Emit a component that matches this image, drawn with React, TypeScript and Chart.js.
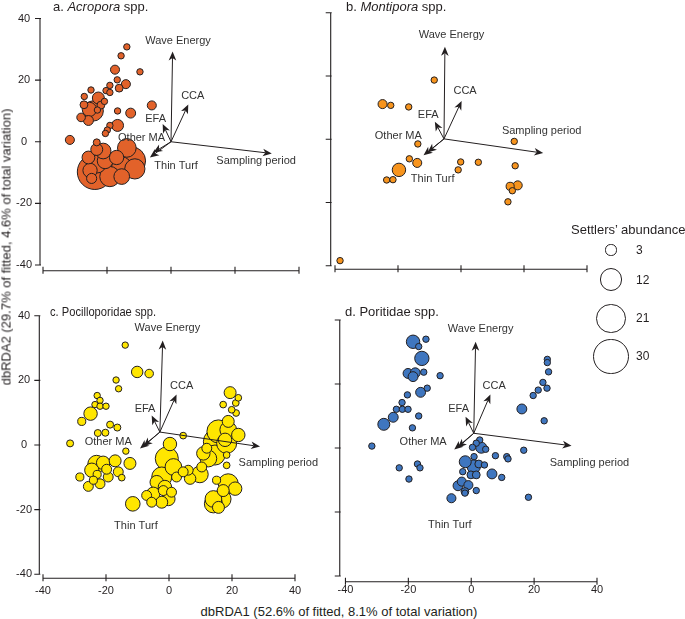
import { useEffect, useRef } from 'react';
import { Chart, registerables } from 'chart.js';

Chart.register(...registerables);

// ---------- data ----------
const TICKS = [-40, -20, 0, 20, 40];
const VECTOR_NAMES = ['Wave Energy', 'CCA', 'EFA', 'Other MA', 'Thin Turf', 'Sampling period'];
const LEGEND_VALUES = [3, 12, 21, 30];

// [dbRDA1, dbRDA2, settlers' abundance]
const ACROPORA = [
  [-13.8, 30.8, 1], [-15.6, 27.9, 1], [-17.5, 23.4, 2], [-9.7, 22.7, 1], [-16.8, 20.1, 1],
  [-14.1, 18.7, 2], [-16.2, 17.4, 1.5], [-19.1, 18.3, 1], [-20.3, 16.6, 1], [-19.1, 16.0, 1],
  [-25.0, 16.8, 1], [-27.1, 14.7, 1], [-22.7, 14.2, 3.5], [-20.8, 13.1, 1], [-27.2, 12.0, 1.5],
  [-24.3, 10.0, 10], [-25.5, 10.5, 5], [-21.9, 11.9, 1.5], [-23.0, 10.3, 1], [-28.1, 7.9, 1.8],
  [-25.8, 6.9, 2.4], [-16.7, 10.0, 1], [-12.6, 9.3, 2.4], [-6.0, 11.8, 2], [-19.1, 5.3, 1],
  [-16.7, 5.3, 3.5], [-19.9, 3.8, 1], [-20.5, 2.7, 1], [-31.6, 0.6, 2], [-23.2, -0.2, 1.2],
  [-23.8, -9.8, 30], [-25.3, -9.3, 5], [-13.8, -2.0, 8.5], [-12.3, -6.2, 19], [-17.0, -5.1, 5],
  [-20.6, -6.2, 6], [-21.2, -3.0, 6], [-23.2, -2.5, 3.5], [-15.4, -8.2, 10], [-19.1, -11.3, 10],
  [-15.4, -11.3, 6], [-25.8, -5.1, 4], [-11.3, -8.8, 10], [-24.8, -11.9, 2.5], [-22.2, -4.1, 8],
  [-18.4, -7.2, 12], [-23.1, -7.2, 8],
];

const MONTIPORA = [
  [-8.5, 18.7, 1], [-24.9, 11.1, 2], [-22.3, 10.7, 1], [-16.6, 10.2, 1], [-13.7, -1.5, 1],
  [-16.4, -6.2, 1], [-13.9, -7.5, 2], [-19.7, -9.7, 4.4], [-23.6, -12.9, 1], [-21.6, -12.8, 1],
  [-0.1, -7.2, 1], [-0.9, -9.7, 1], [5.5, -7.3, 1], [16.9, -0.7, 1], [17.2, -8.4, 1],
  [15.6, -14.9, 1.6], [18.0, -14.6, 2], [16.3, -16.3, 1], [14.9, -19.8, 1], [-38.4, -38.4, 1],
];

const POCILLOPORIDAE = [
  [-13.9, 30.9, 1], [-10.1, 22.6, 3.2], [-6.3, 22.1, 1.8], [-16.8, 20.1, 1], [-16.0, 17.4, 1],
  [-22.8, 15.3, 1], [-21.9, 13.8, 1], [-23.5, 12.5, 1], [-21.9, 12.0, 1], [-20.0, 12.0, 1],
  [-24.9, 9.7, 4.4], [-27.7, 7.3, 1.6], [-18.7, 6.3, 1.2], [-16.4, 5.4, 1.2], [-22.6, 3.7, 1.2],
  [-20.2, 3.8, 1.2], [-31.4, 0.5, 1.2], [-13.7, -1.9, 1], [-11.5, -18.2, 5.2],
  [-23.0, -5.9, 7.5], [-24.5, -7.8, 5], [-20.9, -5.5, 4.4], [-17.1, -4.9, 3.5], [-12.4, -5.7, 3.5],
  [-25.6, -12.8, 2.4], [-28.3, -9.9, 1.6], [-21.9, -12.0, 2.4], [-19.3, -9.9, 2.4], [-16.1, -8.3, 2.4],
  [-22.8, -9.1, 1.6], [-19.8, -7.5, 2.4], [-15.0, -10.1, 1.1], [-24.0, -10.9, 1.6],
  [4.5, 2.9, 1.1], [0.3, 0.3, 4.4], [-0.7, -4.2, 13], [1.4, -6.8, 6.8], [-2.3, -9.9, 9.8],
  [-3.9, -11.5, 4.4], [-1.3, -13.0, 4.4], [-1.8, -14.1, 2.4], [-5.0, -15.1, 4.4], [-7.1, -15.6, 2.4],
  [-0.2, -16.7, 4.4], [-2.3, -17.7, 3.5], [-5.5, -17.7, 2.4], [0.8, -14.6, 2.4], [2.4, -9.9, 2.4],
  [6.1, -7.8, 2.4], [6.7, -10.4, 3.2], [4.5, -8.3, 2.4], [9.8, -9.1, 6.8], [10.4, -6.8, 2.4],
  [10.9, -2.6, 4.4], [12.5, -4.2, 6.8], [14.6, -3.1, 9.8], [15.1, 1.0, 17], [15.7, 4.2, 13],
  [18.8, 4.7, 6.8], [17.8, 1.6, 4.4], [18.8, 7.3, 3.5], [19.4, 16.2, 3.5], [17.2, 12.5, 1.1],
  [21.2, 13.0, 1.1], [22.0, 14.6, 1.1], [21.3, 9.9, 1.1], [19.9, 10.9, 1.1], [22.0, 3.1, 4.4],
  [18.3, -3.1, 1.1], [18.3, -6.3, 1.1], [12.0, -1.0, 2.4], [18.8, -12.0, 9.8], [16.7, -16.7, 8.7],
  [14.1, -16.7, 6.8], [15.7, -19.3, 3.5], [21.0, -13.5, 4.4], [15.1, -10.9, 1.6], [17.2, -14.1, 3.5],
  [18.3, 0.5, 9.8], [14.1, -18.2, 8],
];

const PORITIDAE = [
  [-18.5, 33.2, 4.4], [-14.4, 34.0, 1], [-16.7, 31.7, 1], [-15.7, 28.0, 5], [-20.1, 23.3, 2.4],
  [-17.8, 23.5, 2.4], [-18.5, 22.3, 2.4], [-15.1, 23.7, 1], [-9.9, 22.6, 1], [-14.0, 18.7, 1],
  [-16.1, 17.4, 2.4], [-20.3, 16.6, 1], [-22.0, 14.2, 1], [-23.8, 12.1, 1], [-21.9, 12.1, 1],
  [-20.1, 12.1, 1], [-24.8, 9.6, 2.4], [-27.8, 7.4, 3.5], [-16.7, 10.0, 1], [-18.7, 6.3, 1],
  [-31.6, 0.6, 1], [-22.9, -6.2, 1], [-19.8, -9.7, 1], [-17.1, -5.0, 1], [-16.3, -6.2, 1],
  [24.2, 27.7, 1], [24.2, 26.7, 1], [24.6, 23.8, 1], [22.8, 20.5, 1], [24.1, 18.7, 1],
  [21.3, 18.1, 1], [19.7, 16.4, 1], [16.1, 12.2, 2.4], [23.2, 8.5, 1], [16.7, -0.7, 1],
  [18.2, -15.4, 1],
  [2.7, 2.5, 1], [1.6, 1.5, 1], [3.2, 0.1, 3], [4.6, -0.4, 1], [0.4, 0.2, 1],
  [7.7, -2.4, 1], [11.3, -2.7, 1], [11.7, -3.4, 1], [0.9, -2.7, 1], [-1.9, -4.3, 3.5],
  [0.8, -5.8, 4.4], [2.4, -5.0, 1.5], [4.2, -5.3, 1], [-2.7, -7.4, 1], [-0.1, -8.4, 1.5],
  [1.6, -8.4, 1.5], [6.6, -8.1, 2.4], [9.7, -9.2, 1], [-4.2, -11.8, 2.4], [-3.0, -10.5, 2],
  [-0.9, -11.6, 2], [-2.0, -13.6, 1.5], [-2.0, -14.1, 1], [1.6, -13.3, 1], [-6.3, -15.7, 2],
];

// biplot vectors: origin and tips, in dbRDA units (order = VECTOR_NAMES)
const ACROPORA_ORIGIN = [0, 0];
const ACROPORA_VECTORS = [[0.5, 29.3], [5.4, 12.1], [-2.6, 5.8], [-5.5, -3.5], [-6.6, -5.1], [31.5, -3.8]];
const MONTIPORA_ORIGIN = [-5.4, 0.1];
const MONTIPORA_VECTORS = [[-5.1, 29.2], [0.2, 12.1], [-8.3, 5.5], [-11.9, -5.1], [-10.6, -4.2], [26.1, -4.4]];
const POCILLOPORIDAE_ORIGIN = [-2.9, 4.0];
const POCILLOPORIDAE_VECTORS = [[-2.0, 32.3], [2.4, 15.6], [-5.5, 9.1], [-9.2, -1.1], [-8.1, -0.4], [28.9, -0.5]];
const PORITIDAE_ORIGIN = [0.8, 4.6];
const PORITIDAE_VECTORS = [[1.4, 33.2], [6.1, 16.7], [-1.8, 9.8], [-5.4, -0.5], [-4.3, 0.1], [31.9, 0.7]];

// label anchors for vectors (dbRDA units)
const ACROPORA_LABELS = [[2.2, 32.6], [6.8, 14.9], [-4.8, 7.4], [-9.2, 1.2], [1.6, -7.7], [26.6, -6.2]];
const MONTIPORA_LABELS = [[-3.0, 33.1], [1.3, 15.1], [-10.4, 7.8], [-19.9, 1.1], [-9.0, -12.6], [25.6, 2.7]];
const POCILLOPORIDAE_LABELS = [[-0.5, 36.2], [4.0, 18.4], [-7.6, 11.3], [-19.3, 0.8], [-10.5, -25.1], [34.7, -5.7]];
const PORITIDAE_LABELS = [[3.0, 37.1], [7.3, 19.4], [-4.0, 12.2], [-15.3, 1.8], [-6.8, -24.1], [37.6, -4.8]];

// ---------- styling / layout ----------
const FONT = '"Liberation Sans", Arial, Helvetica, sans-serif';
const INK = '#231f20';
const TEXT = '#333333';
const radiusFor = (n: number) => 3.2 * Math.sqrt(n);

type Panel = {
  key: string;
  points: number[][];
  origin: number[];
  vectors: number[][];
  labels: number[][];
  color: string;
  title: [string, boolean][];
  titleWidth: number;
  canvas: { left: number; top: number; w: number; h: number };
  area: { l: number; t: number; r: number; b: number };
  off: { y: number; x: number };
  showX: boolean;
  showY: boolean;
  xPad: number;
  titlePos: [number, number];
};

const PANELS: Panel[] = [
  {
    key: 'a', points: ACROPORA, origin: ACROPORA_ORIGIN, vectors: ACROPORA_VECTORS, labels: ACROPORA_LABELS,
    color: '#e2622a', title: [['a. ', false], ['Acropora', true], [' spp.', false]], titleWidth: 0,
    canvas: { left: 0, top: 0, w: 320, h: 290 }, area: { l: 43, t: 8.8, r: 299, b: 265 },
    off: { y: 3, x: 5.7 }, showX: false, showY: true, xPad: 10, titlePos: [53, 7.5],
  },
  {
    key: 'b', points: MONTIPORA, origin: MONTIPORA_ORIGIN, vectors: MONTIPORA_VECTORS, labels: MONTIPORA_LABELS,
    color: '#f7941d', title: [['b. ', false], ['Montipora', true], [' spp.', false]], titleWidth: 0,
    canvas: { left: 320, top: 0, w: 290, h: 290 }, area: { l: 335, t: 12.7, r: 587, b: 265.7 },
    off: { y: 4.3, x: 3.6 }, showX: false, showY: false, xPad: 10, titlePos: [346, 7.5],
  },
  {
    key: 'c', points: POCILLOPORIDAE, origin: POCILLOPORIDAE_ORIGIN, vectors: POCILLOPORIDAE_VECTORS, labels: POCILLOPORIDAE_LABELS,
    color: '#ffe600', title: [['c. Pocilloporidae spp.', false]], titleWidth: 106,
    canvas: { left: 0, top: 295, w: 330, h: 305 }, area: { l: 43, t: 315.7, r: 295, b: 574.3 },
    off: { y: 3.7, x: 4 }, showX: true, showY: true, xPad: 10, titlePos: [50, 312],
  },
  {
    key: 'd', points: PORITIDAE, origin: PORITIDAE_ORIGIN, vectors: PORITIDAE_VECTORS, labels: PORITIDAE_LABELS,
    color: '#3f76bf', title: [['d. Poritidae spp.', false]], titleWidth: 0,
    canvas: { left: 330, top: 295, w: 355, h: 305 }, area: { l: 339, t: 320, r: 597, b: 576 },
    off: { y: 5.7, x: 5.7 }, showX: true, showY: false, xPad: 7.5, titlePos: [345, 312],
  },
];

function drawArrow(ctx: CanvasRenderingContext2D, x0: number, y0: number, x1: number, y1: number) {
  const ang = Math.atan2(y1 - y0, x1 - x0);
  const L = 9, W = 3.8, N = 6.5;
  ctx.beginPath();
  ctx.moveTo(x0, y0);
  ctx.lineTo(x1 - Math.cos(ang) * N, y1 - Math.sin(ang) * N);
  ctx.stroke();
  ctx.save();
  ctx.translate(x1, y1);
  ctx.rotate(ang);
  ctx.beginPath();
  ctx.moveTo(0, 0);
  ctx.lineTo(-L, -W);
  ctx.lineTo(-N, 0);
  ctx.lineTo(-L, W);
  ctx.closePath();
  ctx.fill();
  ctx.restore();
}

function makeOverlay(p: Panel) {
  return {
    id: 'overlay-' + p.key,
    afterDatasetsDraw(chart: any) {
      const ctx: CanvasRenderingContext2D = chart.ctx;
      const xs = chart.scales.x;
      const ys = chart.scales.y;
      const area = chart.chartArea;
      ctx.save();
      // axes (offset style)
      ctx.strokeStyle = INK;
      ctx.lineWidth = 1.1;
      const ax = area.left - p.off.y;
      const ay = area.bottom + p.off.x;
      ctx.beginPath();
      ctx.moveTo(ax, ys.getPixelForValue(TICKS[TICKS.length - 1]));
      ctx.lineTo(ax, ys.getPixelForValue(TICKS[0]));
      TICKS.forEach((t) => {
        const py = ys.getPixelForValue(t);
        ctx.moveTo(ax - 5, py);
        ctx.lineTo(ax + 1, py);
      });
      ctx.moveTo(xs.getPixelForValue(TICKS[0]), ay);
      ctx.lineTo(xs.getPixelForValue(TICKS[TICKS.length - 1]), ay);
      TICKS.forEach((t) => {
        const px = xs.getPixelForValue(t);
        ctx.moveTo(px, ay - 4);
        ctx.lineTo(px, ay + 3);
      });
      ctx.stroke();

      // biplot vectors
      ctx.fillStyle = INK;
      ctx.lineWidth = 1;
      const ox = xs.getPixelForValue(p.origin[0]);
      const oy = ys.getPixelForValue(p.origin[1]);
      p.vectors.forEach(([vx, vy]) => {
        drawArrow(ctx, ox, oy, xs.getPixelForValue(vx), ys.getPixelForValue(vy));
      });
      ctx.fillStyle = TEXT;
      ctx.font = '11px ' + FONT;
      ctx.textAlign = 'center';
      ctx.textBaseline = 'middle';
      p.labels.forEach(([lx, ly], i) => {
        ctx.fillText(VECTOR_NAMES[i], xs.getPixelForValue(lx), ys.getPixelForValue(ly));
      });

      // panel title
      ctx.textAlign = 'left';
      ctx.fillStyle = INK;
      let tx = p.titlePos[0] - p.canvas.left;
      const ty = p.titlePos[1] - p.canvas.top;
      p.title.forEach(([s, it]) => {
        ctx.font = (it ? 'italic ' : '') + '13px ' + FONT;
        const w = ctx.measureText(s).width;
        if (p.titleWidth > 0) {
          ctx.fillText(s, tx, ty, p.titleWidth);
          tx += Math.min(w, p.titleWidth);
        } else {
          ctx.fillText(s, tx, ty);
          tx += w;
        }
      });
      ctx.restore();
    },
  };
}

function PanelChart({ p }: { p: Panel }) {
  const ref = useRef<HTMLCanvasElement | null>(null);
  useEffect(() => {
    if (!ref.current) return;
    const wy = p.area.l - p.canvas.left;
    const hx = p.canvas.top + p.canvas.h - p.area.b;
    const sorted = [...p.points].sort((a, b) => b[2] - a[2]);
    const chart = new Chart(ref.current, {
      type: 'bubble',
      data: {
        datasets: [
          {
            data: sorted.map(([x, y, n]) => ({ x, y, r: radiusFor(n) })),
            backgroundColor: p.color,
            borderColor: INK,
            borderWidth: 1,
            hoverRadius: 0,
            clip: false,
          } as any,
        ],
      },
      options: {
        animation: false,
        responsive: false,
        events: [],
        layout: {
          padding: {
            left: 0,
            bottom: 0,
            top: p.area.t - p.canvas.top,
            right: p.canvas.left + p.canvas.w - p.area.r,
          },
        },
        plugins: { legend: { display: false }, tooltip: { enabled: false } },
        scales: {
          x: {
            type: 'linear',
            min: TICKS[0],
            max: TICKS[TICKS.length - 1],
            afterBuildTicks: (s: any) => { s.ticks = TICKS.map((v) => ({ value: v })); },
            afterFit: (s: any) => { s.height = hx; },
            grid: { display: false, drawTicks: false },
            border: { display: false },
            ticks: { display: p.showX, padding: p.xPad, color: INK, font: { family: FONT, size: 11 } },
          },
          y: {
            type: 'linear',
            min: TICKS[0],
            max: TICKS[TICKS.length - 1],
            afterBuildTicks: (s: any) => { s.ticks = TICKS.map((v) => ({ value: v })); },
            afterFit: (s: any) => { s.width = wy; },
            grid: { display: false, drawTicks: false },
            border: { display: false },
            ticks: { display: p.showY, padding: 11, crossAlign: 'center', color: INK, font: { family: FONT, size: 11 } },
          },
        },
      } as any,
      plugins: [makeOverlay(p)],
    });
    return () => chart.destroy();
  }, [p]);
  return (
    <canvas
      ref={ref}
      width={p.canvas.w}
      height={p.canvas.h}
      style={{ position: 'absolute', left: p.canvas.left, top: p.canvas.top, width: p.canvas.w, height: p.canvas.h }}
    />
  );
}

const LEGEND_Y = [250, 279.5, 318.3, 356.3];

export default function App() {
  return (
    <div style={{ position: 'absolute', left: 0, top: 0, width: 685, height: 619, background: '#fff', overflow: 'hidden', fontFamily: FONT, color: INK }}>
      {PANELS.map((p) => (
        <PanelChart key={p.key} p={p} />
      ))}
      <div style={{ position: 'absolute', left: 5.5, top: 247, transform: 'translate(-50%, -50%) rotate(-90deg)', whiteSpace: 'nowrap', fontSize: 13, lineHeight: '15px' }}>
        dbRDA2 (29.7% of fitted, 4.6% of total variation)
      </div>
      <div style={{ position: 'absolute', left: 339, top: 611, transform: 'translate(-50%, -50%)', whiteSpace: 'nowrap', fontSize: 13, lineHeight: '15px' }}>
        dbRDA1 (52.6% of fitted, 8.1% of total variation)
      </div>
      <div style={{ position: 'absolute', left: 571, top: 229, transform: 'translateY(-50%)', whiteSpace: 'nowrap', fontSize: 13, lineHeight: '15px' }}>
        Settlers’ abundance
      </div>
      {LEGEND_VALUES.map((v, i) => {
        const r = radiusFor(v);
        return (
          <div key={v}>
            <div style={{ position: 'absolute', left: 611 - r, top: LEGEND_Y[i] - r, width: 2 * r, height: 2 * r, boxSizing: 'border-box', border: '1px solid ' + INK, borderRadius: '50%' }} />
            <div style={{ position: 'absolute', left: 636, top: LEGEND_Y[i], transform: 'translateY(-50%)', fontSize: 12, lineHeight: '14px' }}>{v}</div>
          </div>
        );
      })}
    </div>
  );
}
